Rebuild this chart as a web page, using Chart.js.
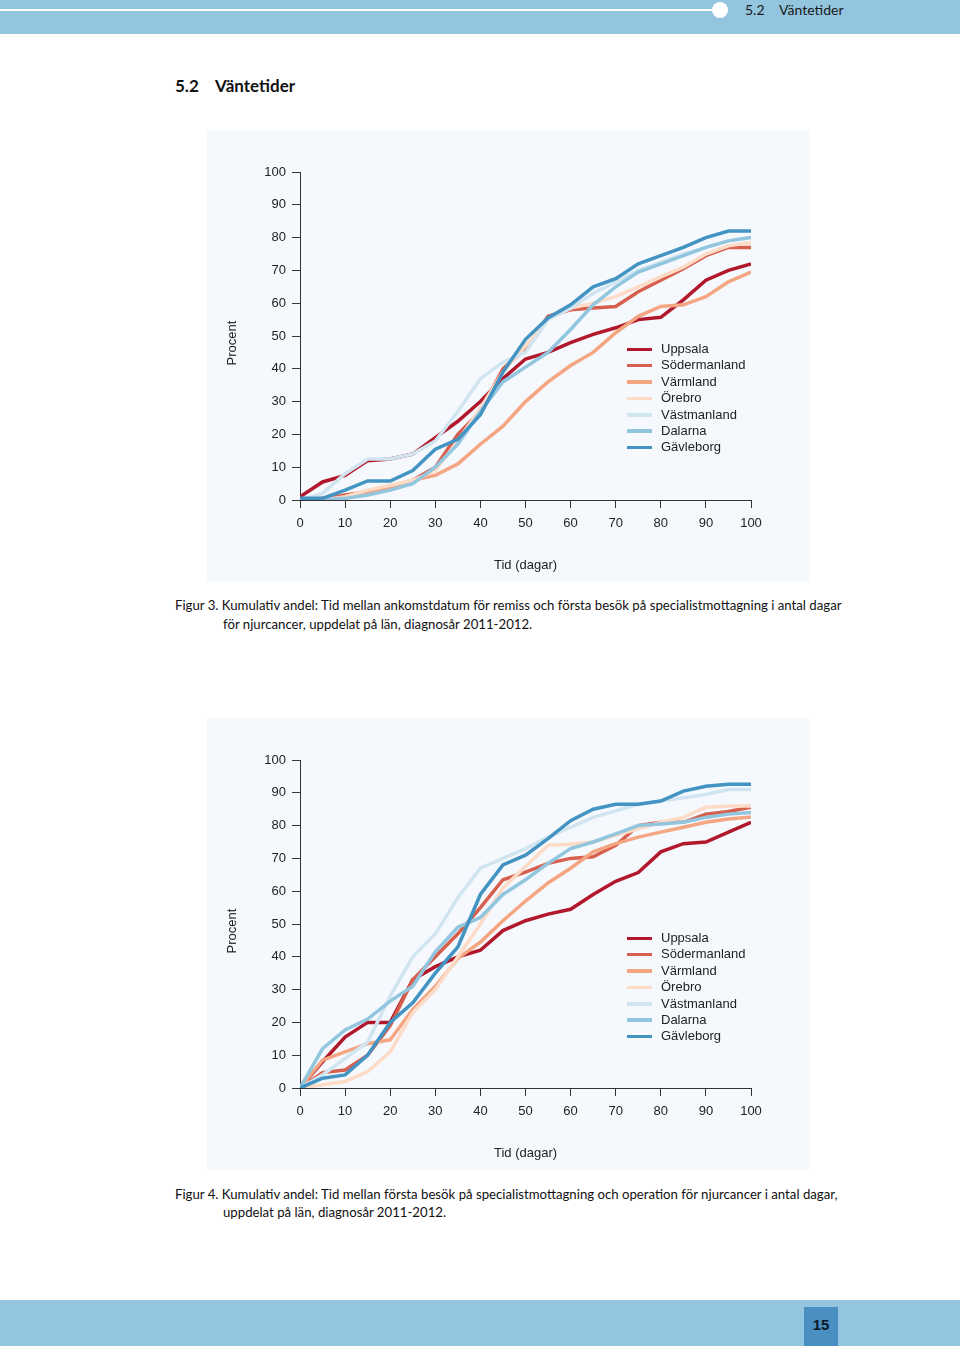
<!DOCTYPE html>
<html><head><meta charset="utf-8">
<script src="https://cdn.jsdelivr.net/npm/chart.js@4.4.1/dist/chart.umd.min.js"></script>
<style>
body{margin:0;width:960px;height:1346px;position:relative;background:#fff;overflow:hidden;font-family:"Lato","Liberation Sans",sans-serif;color:#111}
.abs{position:absolute;white-space:nowrap}
.band{position:absolute;left:0;width:960px;background:#93c5de}
.panel{position:absolute;left:207px;width:603px;height:452px;background:#f5f9fd}
canvas{position:absolute;left:207px}
.leg{position:absolute;left:627px;font-family:"Liberation Sans",Arial,sans-serif;font-size:13px;color:#222}
.leg div{position:relative;height:16.4px;line-height:16.4px}
.leg span.l{position:absolute;left:0;top:6.5px;width:25px;height:3.5px}
.leg span.t{position:absolute;left:34px;top:0}
.cap{font-size:13.2px;color:#111}
.ytitle{position:absolute;font-family:"Liberation Sans",Arial,sans-serif;font-size:13px;color:#222;width:100px;text-align:center;line-height:16px;transform:rotate(-90deg)}
</style></head>
<body>
<div class="band" style="top:0;height:34px"></div>
<div class="abs" style="left:0;top:9px;width:716px;height:1.5px;background:#fff"></div>
<div class="abs" style="left:712px;top:2px;width:16px;height:16px;border-radius:50%;background:#fff"></div>
<div class="abs" style="left:745px;top:1px;font-size:14px;line-height:18px;color:#1a1a1a">5.2</div>
<div class="abs" style="left:779px;top:1px;font-size:14px;line-height:18px;color:#1a1a1a">Väntetider</div>

<div class="abs" style="left:175px;top:75px;font-size:17px;line-height:22px;font-weight:bold">5.2</div>
<div class="abs" style="left:215px;top:75px;font-size:17px;line-height:22px;font-weight:bold">Väntetider</div>

<div class="panel" style="top:130px"></div>
<canvas id="c1" width="603" height="452" style="top:130px;width:603px;height:452px"></canvas>
<div class="ytitle" style="left:182px;top:335px">Procent</div>
<div class="leg" id="leg1" style="top:341px"></div>

<div class="abs cap" style="left:175px;top:597px">Figur 3. Kumulativ andel: Tid mellan ankomstdatum för remiss och första besök på specialistmottagning i antal dagar</div>
<div class="abs cap" style="left:223px;top:616px">för njurcancer, uppdelat på län, diagnosår 2011-2012.</div>

<div class="panel" style="top:718px"></div>
<canvas id="c2" width="603" height="452" style="top:718px;width:603px;height:452px"></canvas>
<div class="ytitle" style="left:182px;top:923px">Procent</div>
<div class="leg" id="leg2" style="top:930px"></div>

<div class="abs cap" style="left:175px;top:1186px">Figur 4. Kumulativ andel: Tid mellan första besök på specialistmottagning och operation för njurcancer i antal dagar,</div>
<div class="abs cap" style="left:223px;top:1204px">uppdelat på län, diagnosår 2011-2012.</div>

<div class="band" style="top:1300px;height:46px"></div>
<div class="abs" style="left:804px;top:1307px;width:34px;height:39px;background:#4a8fc2"></div>
<div class="abs" style="left:804px;top:1315px;width:34px;text-align:center;font-family:'Liberation Sans',sans-serif;font-weight:bold;font-size:15px;line-height:20px;color:#0a1a2a">15</div>

<script>
// ---- data ----
const days = [0,5,10,15,20,25,30,35,40,45,50,55,60,65,70,75,80,85,90,95,100];
const regions = ['Uppsala','Södermanland','Värmland','Örebro','Västmanland','Dalarna','Gävleborg'];
const regionColors = ['#b2182b','#d6604d','#f4a582','#fddbc7','#d1e5f0','#92c5de','#4393c3'];
const xTickValues = [0,10,20,30,40,50,60,70,80,90,100];
const yTickValues = [0,10,20,30,40,50,60,70,80,90,100];

// Figur 3: remiss -> första besök (cumulative %)
const fig3Uppsala      = [1,5.5,7.5,12,12.5,14,19,24,30,37,43,45,48,50.5,52.5,55,55.7,61,67,70,72];
const fig3Sodermanland = [0,0.5,1.5,2.5,4,6,10,20,27,40,46,56,58,58.5,59,63.5,67,70.5,74.5,77,77];
const fig3Varmland     = [0,0,0.5,2,4,6,7.5,11,17,22.5,30,36,41,45,51,56,59,59.5,62,66.5,69.5];
const fig3Orebro       = [0,0,1,3,4.5,6,9,18,28,39,47,55,58.5,60,62,65,68,71,75,77.5,78.5];
const fig3Vastmanland  = [0,2,8,12.5,12.5,14,18,27,37,42,45,55,58.5,63,66.5,70,72.5,75,77,79,80];
const fig3Dalarna      = [0,0,0.5,1.5,3,5,10,17,27,36,40.5,45,52,59.5,65,69.5,72,74.5,77,79,80];
const fig3Gavleborg    = [0.5,0.5,3,5.8,5.8,9,15.5,18.5,26,39,49,55.5,59.5,65,67.5,72,74.5,77,80,82,82];

// Figur 4: första besök -> operation (cumulative %)
const fig4Uppsala      = [0,8,15.5,20,20,33,37,40,42,48,51,53,54.5,59,63,65.7,72,74.5,75,78,81];
const fig4Sodermanland = [0,4.7,5.5,10,19,33,40,47,55,63.5,65.8,68.5,70,70.5,74,80,81,81,83.5,84.3,85.6];
const fig4Varmland     = [0,8.5,11,13.5,14.7,24,31,39.5,44.5,51,57,62.5,67,72,74.5,76.5,78,79.5,81,82,82.6];
const fig4Orebro       = [0,1,2,5,11,23,30,40,50,61,67.5,74,74.3,75,77,79,81,82.5,85.6,86,86];
const fig4Vastmanland  = [0,4,9,14,28,40,47,58,67,70,73,76.5,79.5,82.5,84.5,86.5,87.5,88.5,89.5,91,91];
const fig4Dalarna      = [0,12,17.7,21,26.5,31,41.5,49,52,59,63.5,68.5,73,75,77.5,80,80.5,81,82.5,83.5,84];
const fig4Gavleborg    = [0,3,4,10,20,26,35,43,59,68,71,76,81.5,85,86.5,86.5,87.5,90.5,92,92.6,92.6];

const fig3Series = [fig3Uppsala,fig3Sodermanland,fig3Varmland,fig3Orebro,fig3Vastmanland,fig3Dalarna,fig3Gavleborg];
const fig4Series = [fig4Uppsala,fig4Sodermanland,fig4Varmland,fig4Orebro,fig4Vastmanland,fig4Dalarna,fig4Gavleborg];

const axisFont = {family:'"Liberation Sans", Arial, sans-serif', size:13};
const axisColor = '#333';
const textColor = '#222';

function makeChart(id, series){
  const datasets = series.map((vals,i)=>({
    label: regions[i],
    data: days.map((d,j)=>({x:d,y:vals[j]})),
    borderColor: regionColors[i],
    backgroundColor: regionColors[i],
    borderWidth: 3.5,
    pointRadius: 0,
    tension: 0,
    fill: false,
    order: series.length - 1 - i
  }));
  return new Chart(document.getElementById(id), {
    type:'line',
    data:{datasets},
    options:{
      responsive:false, animation:false, devicePixelRatio:1,
      layout:{padding:{top:42,right:59,bottom:0,left:0}},
      plugins:{legend:{display:false},tooltip:{enabled:false}},
      scales:{
        x:{type:'linear',min:0,max:100,
          afterFit(s){s.height=82;},
          afterBuildTicks(s){s.ticks=xTickValues.map(v=>({value:v}));},
          grid:{drawOnChartArea:false,drawTicks:true,tickLength:8,color:axisColor,lineWidth:1},
          border:{display:true,color:axisColor,width:1},
          ticks:{color:textColor,font:axisFont,padding:8,maxRotation:0,autoSkip:false},
          title:{display:true,text:'Tid (dagar)',color:textColor,font:axisFont,padding:{top:0,bottom:9}}
        },
        y:{type:'linear',min:0,max:100,
          afterFit(s){s.width=93;},
          afterBuildTicks(s){s.ticks=yTickValues.map(v=>({value:v}));},
          grid:{drawOnChartArea:false,drawTicks:true,tickLength:8,color:axisColor,lineWidth:1},
          border:{display:true,color:axisColor,width:1},
          ticks:{color:textColor,font:axisFont,padding:6,autoSkip:false},
          title:{display:false}
        }
      }
    }
  });
}
makeChart('c1', fig3Series);
makeChart('c2', fig4Series);

function makeLegend(id){
  const el = document.getElementById(id);
  regions.forEach((r,i)=>{
    const row = document.createElement('div');
    row.innerHTML = '<span class="l" style="background:'+regionColors[i]+'"></span><span class="t">'+r+'</span>';
    el.appendChild(row);
  });
}
makeLegend('leg1'); makeLegend('leg2');
</script>
</body></html>
